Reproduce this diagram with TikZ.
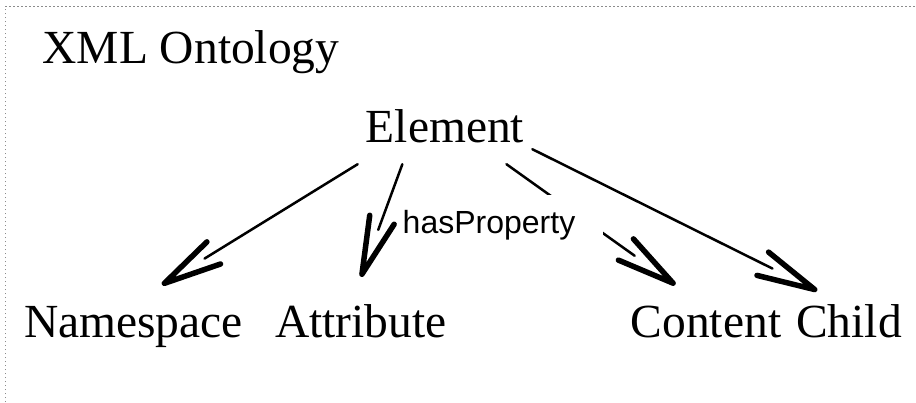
\documentclass[tikz,border=0pt]{standalone}
\usepackage{fontspec}
\setmainfont{Liberation Serif}
\newfontfamily\relfont{Liberation Sans}
\usetikzlibrary{arrows.meta,decorations.markings}
\definecolor{framegray}{HTML}{8C8C8C}

\begin{document}
\begin{tikzpicture}[x=1pt, y=-1pt,
    term/.style={font=\fontsize{47.5}{57}\selectfont, anchor=base,
                 text height=33pt, text depth=10pt,
                 inner xsep=6pt, inner ysep=19pt},
    rel/.style={line width=2.5pt, line cap=round, shorten >=50pt,
                postaction={decorate},
                decoration={markings, mark=at position 1 with
                  {\arrow{Straight Barb[length=58pt, width=26pt, line width=5.5pt, round]}}}},
    proplabel/.style={font=\relfont\fontsize{32}{38}\selectfont, fill=white,
                      anchor=base, inner xsep=28pt, inner ysep=15pt}]
  \useasboundingbox (0,0) rectangle (916,402);
  % only the top and left edge of the frame are in view
  \draw[framegray, line width=1pt, dash pattern=on 1.5pt off 2.5pt]
    (5,402) -- (5,6) -- (916,6);

  \node[font=\fontsize{47.5}{57}\selectfont, anchor=base] (title) at (191,63) {XML Ontology};
  \node[term, text height=32.4pt, text depth=0pt, inner xsep=8pt, inner ysep=22pt]
    (elem) at (445,142) {Element};
  \node[term] (ns)    at (133.5,337) {Namespace};
  \node[term] (attr)  at (361,337)   {Attribute};
  \node[term] (cont)  at (706,337)   {Content};
  \node[term] (child) at (849,337)   {Child};

  % the label box hides part of the Content edge
  \draw[rel] (elem.328) -- (cont.127);
  \node[proplabel] (prop) at (489,233) {hasProperty};
  \draw[rel] (elem.south west) -- (ns.55);
  \draw[rel] (elem.222) -- ([yshift=8pt]attr.north);
  \draw[rel] (elem.345) -- ([yshift=-6pt]child.128);
\end{tikzpicture}
\end{document}
